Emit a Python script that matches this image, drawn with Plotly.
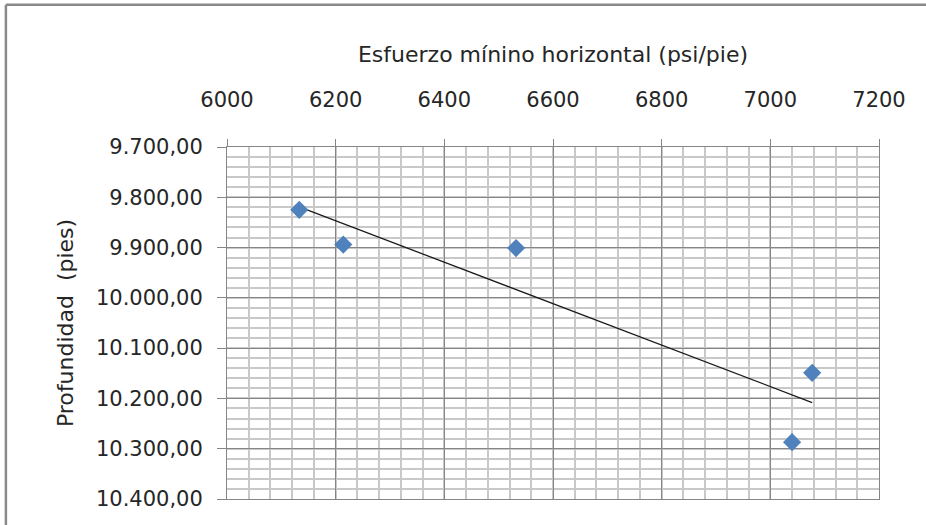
import numpy as np
import plotly.graph_objects as go

# Data
esfuerzo = [6133, 6214, 6532, 7077, 7040]          # psi/pie
profundidad = [9825, 9894, 9901, 10149, 10287]     # pies

x_ticks = [6000, 6200, 6400, 6600, 6800, 7000, 7200]
y_ticks = [9700, 9800, 9900, 10000, 10100, 10200, 10300, 10400]
y_labels = ["9.700,00", "9.800,00", "9.900,00", "10.000,00",
            "10.100,00", "10.200,00", "10.300,00", "10.400,00"]

# Linear trendline (least squares, like Excel's)
slope, intercept = np.polyfit(esfuerzo, profundidad, 1)
trend_x = [min(esfuerzo), max(esfuerzo)]
trend_y = [slope * v + intercept for v in trend_x]

FONT = "'DejaVu Sans', sans-serif"
TXT = "#262626"
W, H = 926, 525
L, R, T, B = 227, 878.7, 146.5, 499


def px(x):
    return (x - L) / (R - L)


def py(y):
    return (B - y) / (B - T)


fig = go.Figure()

fig.add_trace(go.Scatter(
    x=trend_x, y=trend_y, mode="lines",
    line=dict(color="#1a1a1a", width=1.3),
    showlegend=False, hoverinfo="skip"))

fig.add_trace(go.Scatter(
    x=esfuerzo, y=profundidad, mode="markers",
    marker=dict(symbol="diamond", size=14, color="#4F81BD",
                line=dict(width=0)),
    showlegend=False))

fig.update_xaxes(
    side="top", range=[6000, 7200], tickvals=x_ticks,
    showline=True, linecolor="#868686", linewidth=1,
    showgrid=True, gridcolor="#868686", gridwidth=1,
    ticks="outside", ticklen=7, tickcolor="#868686",
    ticklabelstandoff=24,
    tickfont=dict(family=FONT, size=21, color=TXT),
    minor=dict(dtick=40, showgrid=True, gridcolor="#c8c8c8", gridwidth=1.5),
    title=dict(text="Esfuerzo mínino horizontal (psi/pie)", standoff=18,
               font=dict(family=FONT, size=22, color=TXT)),
    zeroline=False, mirror=True)

fig.update_yaxes(
    range=[10400, 9700], tickvals=y_ticks, ticktext=y_labels,
    showline=True, linecolor="#868686", linewidth=1,
    showgrid=True, gridcolor="#868686", gridwidth=1,
    ticks="outside", ticklen=9, tickcolor="#868686",
    ticklabelstandoff=10,
    tickfont=dict(family=FONT, size=21, color=TXT),
    minor=dict(dtick=20, showgrid=True, gridcolor="#c8c8c8", gridwidth=1.5),
    title=dict(text="Profundidad  (pies)", standoff=16,
               font=dict(family=FONT, size=22, color=TXT)),
    zeroline=False, mirror=True)

# outer chart-area frame (only top and left edges are visible)
fig.add_shape(type="line", xref="paper", yref="paper",
              x0=px(6), x1=px(W + 5), y0=py(4), y1=py(4),
              line=dict(color="#8a8a8a", width=2.5))
fig.add_shape(type="line", xref="paper", yref="paper",
              x0=px(6), x1=px(6), y0=py(4), y1=py(H + 5),
              line=dict(color="#8a8a8a", width=2.5))

fig.update_layout(
    width=W, height=H,
    margin=dict(l=L, r=W - R, t=T, b=H - B, autoexpand=False),
    paper_bgcolor="white", plot_bgcolor="white",
    font=dict(family=FONT, color=TXT))

fig.write_html("out.html",
               config={"displayModeBar": False},
               post_script="document.body.style.margin='0';"
                           "document.body.style.overflow='hidden';")
